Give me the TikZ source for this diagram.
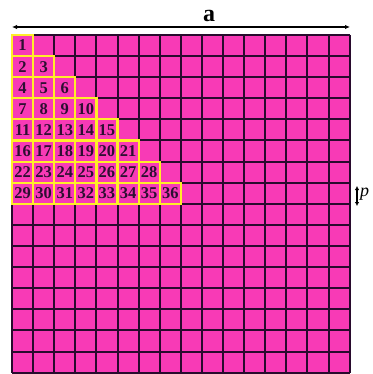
\documentclass[tikz,border=0pt]{standalone}
\usepackage{fontspec}
\setmainfont{Liberation Serif}
\usetikzlibrary{arrows.meta}
\definecolor{cellpink}{RGB}{248,58,182}
\definecolor{gridline}{RGB}{40,10,45}
\definecolor{tyellow}{RGB}{255,238,40}
\definecolor{numcol}{RGB}{45,15,50}
\tikzset{
  gridrule/.style={draw=gridline, line width=2pt},
  tricell/.style={draw=tyellow, line width=2.2pt},
  numlabel/.style={inner sep=0pt, text=numcol, font=\fontsize{16.5}{16.5}\selectfont\bfseries},
  dimarrow/.style={line width=1.3pt, {Latex[length=5pt,width=4.5pt]}-{Latex[length=5pt,width=4.5pt]}},
}
\begin{document}
\begin{tikzpicture}[x=1pt,y=-1pt]
\useasboundingbox (0,0) rectangle (372,374);
\def\cs{21.1}
\fill[cellpink] (12,35) rectangle ({12+16*\cs},{35+16*\cs});
\foreach \i in {0,...,16} {
  \draw[gridrule] ({12+\i*\cs},35) -- ({12+\i*\cs},{35+16*\cs});
  \draw[gridrule] (12,{35+\i*\cs}) -- ({12+16*\cs},{35+\i*\cs});
}
\foreach \r in {1,...,8} {
  \foreach \c in {1,...,\r} {
    \draw[tricell] ({12+(\c-1)*\cs},{35+(\r-1)*\cs}) rectangle ++(\cs,\cs);
  }
}
\foreach \r in {1,...,8} {
  \foreach \c in {1,...,\r} {
    \pgfmathtruncatemacro\n{\r*(\r-1)/2+\c}
    \node[numlabel] (n\n) at ({12+(\c-0.5)*\cs},{35+(\r-0.5)*\cs}) {\n};
  }
}
\coordinate (aL) at (12,27);
\coordinate (aR) at (350,27);
\draw[dimarrow] (aL) -- (aR);
\node[inner sep=0pt, font=\fontsize{24}{24}\selectfont\bfseries] (alabel) at (209,16) {a};
\coordinate (pT) at (357,186);
\coordinate (pB) at (357,206);
\draw[line width=1.4pt, {Latex[length=4pt,width=4.5pt]}-{Latex[length=4pt,width=4.5pt]}] (pT) -- (pB);
\node[inner sep=0pt, anchor=west, font=\fontsize{18}{18}\selectfont\itshape] (plabel) at (360,194) {p};
\end{tikzpicture}
\end{document}
